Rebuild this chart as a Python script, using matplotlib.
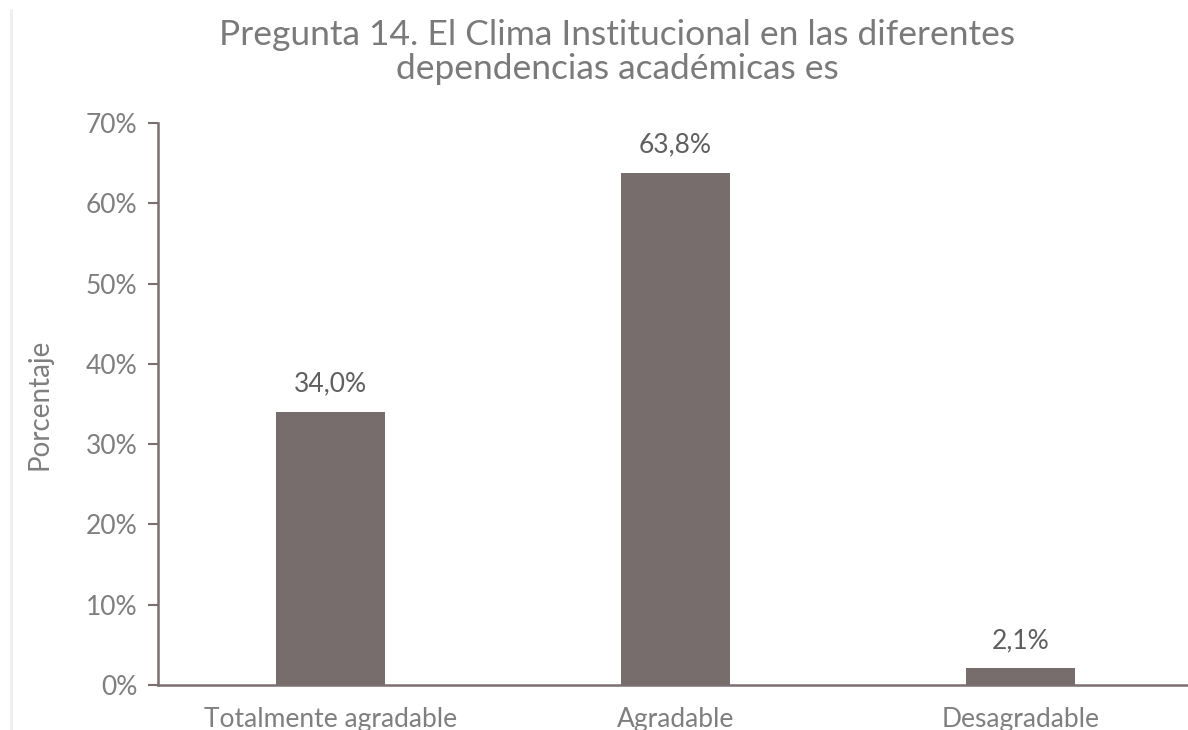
import numpy as np
from matplotlib import pyplot as plt
from matplotlib.lines import Line2D

categorias = ['Totalmente agradable', 'Agradable', 'Desagradable']
porcentajes = [34.0, 63.8, 2.1]
etiquetas = ['34,0%', '63,8%', '2,1%']
ticks_y = [0, 10, 20, 30, 40, 50, 60, 70]

plt.rcParams['font.family'] = ['Lato', 'DejaVu Sans']
gris_texto = '#7f7f7f'
color_barra = '#766d6c'

fig = plt.figure(figsize=(11.88, 7.3), dpi=100)
W, H = 1188, 730
ax = fig.add_axes([158 / W, 1 - 685 / H, (1193 - 158) / W, (685 - 123) / H])

x = np.arange(len(categorias))
ax.bar(x, porcentajes, width=0.315, color=color_barra, zorder=2)
for xi, v, t in zip(x, porcentajes, etiquetas):
    ax.annotate(t, (xi, v), xytext=(0, 11), textcoords='offset points',
                ha='center', va='bottom', fontsize=19, color='#5f5f5f')

ax.set_xlim(-0.5, 2.5)
ax.set_ylim(0, 70)
ax.set_yticks(ticks_y)
ax.set_yticklabels([f'{t}%' for t in ticks_y])
ax.set_xticks(x)
ax.set_xticklabels(categorias)

for s in ['top', 'right']:
    ax.spines[s].set_visible(False)
for s in ['left', 'bottom']:
    ax.spines[s].set_color('#7a7070')
    ax.spines[s].set_linewidth(1.8)

ax.tick_params(axis='y', colors='#7a7070', labelcolor=gris_texto, labelsize=19,
               length=7, width=1.5, pad=8)
ax.tick_params(axis='x', length=0, labelcolor=gris_texto, labelsize=19, pad=16)

ax.set_ylabel('Porcentaje', fontsize=20, color=gris_texto, labelpad=24)

fig.text(617 / W, 1 - 52 / H,
         'Pregunta 14. El Clima Institucional en las diferentes\ndependencias académicas es',
         ha='center', va='center', fontsize=25.5, color='#7a7a7a', linespacing=1.1)

# borde izquierdo tenue
fig.add_artist(Line2D([11 / W, 11 / W], [0, 1 - 10 / H], color='#eeeeee', lw=2))

fig.savefig('out.png', dpi=100)
